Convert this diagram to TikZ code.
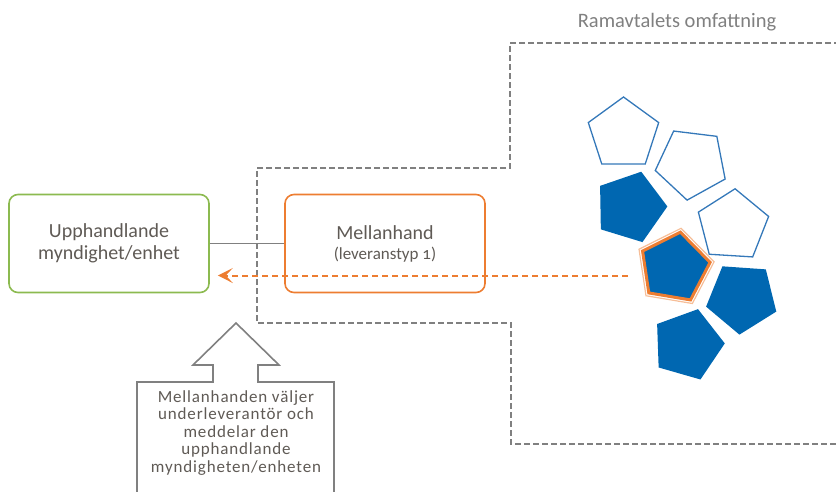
\documentclass[tikz,border=0pt]{standalone}
\usepackage{fontspec}
\setmainfont{Carlito}
\usetikzlibrary{arrows.meta,shapes.geometric}

\begin{document}
\begin{tikzpicture}[x=1pt,y=-1pt,
  box/.style={draw,line width=1.6pt,rounded corners=9pt,minimum width=200pt,minimum height=98pt,align=center,text=mytext,font=\fontsize{20}{22}\selectfont},
  pent/.style={regular polygon,regular polygon sides=5,inner sep=0pt,minimum size=74pt},
  pentopen/.style={pent,draw=myline,line width=1.3pt},
  pentfull/.style={pent,fill=myblue},
  scopeframe/.style={mygray,line width=2pt,dash pattern=on 6pt off 3pt},
  link/.style={mygray,line width=1.2pt},
  flow/.style={myorange,line width=2pt,dash pattern=on 6pt off 4pt,-{Stealth[length=15pt,width=15pt,inset=7pt]}},
  notebox/.style={mygray,line width=1.6pt}
]

\definecolor{myblue}{RGB}{0,103,177}
\definecolor{myline}{RGB}{52,120,185}
\definecolor{myorange}{RGB}{237,125,49}
\definecolor{mygreen}{RGB}{140,186,80}
\definecolor{mygray}{RGB}{128,128,128}
\definecolor{mytext}{RGB}{95,90,85}

\useasboundingbox (0,0) rectangle (836,491);

\node[text=mygray,font=\fontsize{20.5}{24}\selectfont] (title) at (677,22) {Ramavtalets omfattning};
\draw[scopeframe] (840,43) -- (510,43) -- (510,168) -- (257,168) -- (257,323) -- (511,323) -- (511,444) -- (840,444);

\node[box,draw=mygreen] (up) at (109,243.5) {Upphandlande\\myndighet/enhet};
\node[box,draw=myorange] (mid) at (385,243.5) {Mellanhand\\[-2pt]{\fontsize{17}{20}\selectfont\addfontfeature{Numbers=OldStyle}(leveranstyp 1)}};
\draw[link] (up) -- (mid);

\node[pentopen] (p1) at (623.5,134) {};
\node[pentopen,shape border rotate=29] (p2) at (691.6,163.4) {};
\node[pentfull,shape border rotate=-17] (p3) at (630.4,207.1) {};
\node[pentopen,shape border rotate=-3.5] (p4) at (732.8,225.7) {};
\node[pent,draw=myorange!50,line width=1.2pt,minimum size=80pt,shape border rotate=-9.5] (p5halo) at (674.5,267.7) {};
\node[pentfull,draw=myorange,line width=3pt,minimum size=72pt,shape border rotate=-9.5] (p5) at (674.5,267.7) {};
\node[pentfull,shape border rotate=32] (p6) at (742,297.7) {};
\node[pentfull,shape border rotate=-16] (p7) at (687.8,344.7) {};

\coordinate (src) at (628,275.5);
\draw[flow] (src) -- ([xshift=8pt,yshift=-32pt]up.east);

\draw[notebox] (213,382) -- (213,365) -- (193,365) -- (236,323) -- (279,365) -- (258,365) -- (258,382) -- (334,382) -- (334,500) -- (137,500) -- (137,382) -- cycle;
\node[align=center,text=mytext,font=\fontsize{17}{17.5}\selectfont\addfontfeature{LetterSpace=5}] (note) at (236,433) {Mellanhanden väljer\\underleverantör och\\meddelar den\\upphandlande\\myndigheten/enheten};
\end{tikzpicture}
\end{document}
